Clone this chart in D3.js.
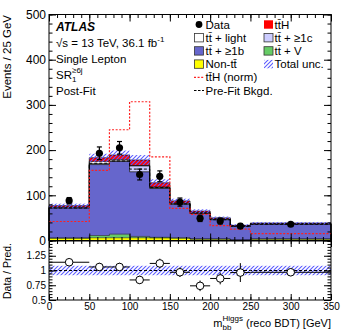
<!DOCTYPE html>
<html><head><meta charset="utf-8">
<script src="https://cdn.jsdelivr.net/npm/d3@7"></script>
<style>body{margin:0;background:#fff} svg{display:block} text{font-family:"Liberation Sans",Arial,Helvetica,sans-serif;fill:#000}</style>
</head><body><svg id="c" width="349" height="335"></svg>
<script>
// ---- data (Events / 25 GeV) ----
const binEdges=[0,50,75,100,125,150,175,200,225,250,350];
const nonTT   =[5,6,6,6,5.5,5,3,3,1,3];
const ttV     =[0.5,5,8,3,1.5,1,0.5,0.5,0.3,0.5];
const tt1b    =[66.5,157,161,143,108,74,56.5,42.5,29.7,32.5];
const tt1c    =[0.5,2,1,13,2,1.5,1,1,0.5,0.5];
const ttLight =[1.5,5,3,1,1.5,1.5,1,1,0.5,0.5];
const ttH     =[3,8,10,12,9,4.5,3,2,1.5,1.5];
const totalUnc=[4.5,9,10,11,8,5,4,3,2.5,2.5];
const dataVals=[88,193,205,146,142,85,49,43,32,36];
const dataErr =[7,14,14,12,12,9,7,6.5,5.5,3.5];
const ttHNorm =[42,155,245,307,185,71,58,33,25,15];
const preFitBkg=[72,171,176,158,117,81,60,46,32,36];
const ratioVals=[1.14,1.06,1.06,0.84,1.12,0.97,0.74,0.865,0.965,0.97];
const ratioErr =[0.06,0.07,0.07,0.07,0.08,0.08,0.09,0.1,0.16,0.06];
const ratioUnc =[0.08,0.08,0.08,0.08,0.08,0.08,0.08,0.08,0.08,0.08];
const preFitRatio=[1,1,1,1,1,1,1,1,1,1];
const xTicks=[0,50,100,150,200,250,300,350];
const yTicksMain=[0,100,200,300,400,500];
const yTicksRatio=[0.5,0.75,1,1.25];
const stackNames=["Non-tt\u0304","tt\u0304 + V","tt\u0304 + \u22651b","tt\u0304 + \u22651c","tt\u0304 + light","tt\u0304H"];

const svg=d3.select("#c");
const defs=svg.append("defs");
const pat=defs.append("pattern").attr("id","hatch").attr("patternUnits","userSpaceOnUse").attr("width",4).attr("height",4);
pat.append("path").attr("d","M-1,1 L1,-1 M0,4 L4,0 M3,5 L5,3").attr("stroke","#5c5cff").attr("stroke-width",1.1).attr("fill","none");

const x=d3.scaleLinear().domain([0,350]).range([49,331]);
const y=d3.scaleLinear().domain([0,500]).range([240.5,14.5]);
const yr=d3.scaleLinear().domain([0.5,1.5]).range([300,241]);

const nb=binEdges.length-1;
const bins=d3.range(nb);
const centers=bins.map(i=>(binEdges[i]+binEdges[i+1])/2);

// stacked layers
const layers=[nonTT,ttV,tt1b,tt1c,ttLight,ttH];
const colors=["#ffff00","#66cc66","#6666cc","#ccccff","#ffffff","#ff0000"];
const stackData=bins.map(i=>{const o={};layers.forEach((l,k)=>o[k]=l[i]);return o;});
const stacked=d3.stack().keys(d3.range(layers.length))(stackData);

function stepPts(lo,hi){
  const pts=[];
  bins.forEach(i=>{pts.push({x:binEdges[i],y0:lo[i],y1:hi[i]});pts.push({x:binEdges[i+1],y0:lo[i],y1:hi[i]});});
  return pts;
}
const area=d3.area().x(d=>x(d.x)).y0(d=>y(d.y0)).y1(d=>y(d.y1));
const line=d3.line().x(d=>x(d.x)).y(d=>y(d.y1));
const gMain=svg.append("g");
stacked.forEach((s,k)=>{
  const lo=s.map(d=>d[0]),hi=s.map(d=>d[1]);
  gMain.append("path").attr("d",area(stepPts(lo,hi))).attr("fill",colors[k]);
});
stacked.forEach((s,k)=>{
  const lo=s.map(d=>d[0]),hi=s.map(d=>d[1]);
  const pts=stepPts(lo,hi);
  const ptsV=[{x:binEdges[0],y1:0}].concat(pts).concat([{x:binEdges[nb],y1:0}]);
  gMain.append("path").attr("d",line(ptsV)).attr("fill","none").attr("stroke","#000").attr("stroke-width",k<2?0.5:0.7);
});
// total uncertainty band
const total=bins.map(i=>layers.reduce((a,l)=>a+l[i],0));
gMain.selectAll("rect.unc").data(bins).join("rect").attr("class","unc")
  .attr("x",i=>x(binEdges[i])).attr("width",i=>x(binEdges[i+1])-x(binEdges[i]))
  .attr("y",i=>y(total[i]+totalUnc[i])).attr("height",i=>y(total[i]-totalUnc[i])-y(total[i]+totalUnc[i]))
  .attr("fill","url(#hatch)");
// pre-fit bkg
const zero=bins.map(()=>0);
gMain.append("path").attr("d",line(stepPts(zero,preFitBkg))).attr("fill","none").attr("stroke","#000").attr("stroke-width",1).attr("stroke-dasharray","3,2");
// ttH norm
gMain.append("path").attr("d",line(stepPts(zero,ttHNorm))).attr("fill","none").attr("stroke","#ff2020").attr("stroke-width",1.2).attr("stroke-dasharray","2,1.6");
// data
const gD=svg.append("g");
bins.forEach(i=>{
  const cx=x(centers[i]);
  gD.append("line").attr("x1",cx).attr("x2",cx).attr("y1",y(dataVals[i]-dataErr[i])).attr("y2",y(dataVals[i]+dataErr[i])).attr("stroke","#000").attr("stroke-width",1.2);
  [dataVals[i]-dataErr[i],dataVals[i]+dataErr[i]].forEach(v=>gD.append("line").attr("x1",cx-2.5).attr("x2",cx+2.5).attr("y1",y(v)).attr("y2",y(v)).attr("stroke","#000").attr("stroke-width",1.2));
  gD.append("circle").attr("cx",cx).attr("cy",y(dataVals[i])).attr("r",3.6).attr("fill","#000");
});

// axes helper
function axesFor(ys,yTicks,minorY,majLenX,minLenX,majLenY,minLenY,showX,labelSize){
  const [top,bot]=[ys.range()[1],ys.range()[0]];
  const g=svg.append("g");
  const minorX=d3.range(0,351,10);
  const tk=(sel)=>sel.call(s=>s.select(".domain").remove()).call(s=>s.selectAll("line").attr("stroke","#000"));
  g.append("g").attr("transform",`translate(0,${bot})`).call(d3.axisBottom(x).tickValues(minorX).tickSize(-minLenX).tickFormat("")).call(tk);
  const bx=g.append("g").attr("transform",`translate(0,${bot})`).call(d3.axisBottom(x).tickValues(xTicks).tickSize(-majLenX).tickPadding(3).tickFormat(showX?d3.format("d"):"")).call(tk);
  bx.selectAll("text").attr("font-size",labelSize).attr("font-family",'"Liberation Sans",Arial,sans-serif');
  g.append("g").attr("transform",`translate(0,${top})`).call(d3.axisTop(x).tickValues(minorX).tickSize(-minLenX).tickFormat("")).call(tk);
  g.append("g").attr("transform",`translate(0,${top})`).call(d3.axisTop(x).tickValues(xTicks).tickSize(-majLenX).tickFormat("")).call(tk);
  g.append("g").attr("transform",`translate(${x(0)},0)`).call(d3.axisLeft(ys).tickValues(minorY).tickSize(-minLenY).tickFormat("")).call(tk);
  const ly=g.append("g").attr("transform",`translate(${x(0)},0)`).call(d3.axisLeft(ys).tickValues(yTicks).tickSize(-majLenY).tickPadding(3)).call(tk);
  ly.selectAll("text").attr("font-size",labelSize).attr("font-family",'"Liberation Sans",Arial,sans-serif');
  g.append("g").attr("transform",`translate(${x(350)},0)`).call(d3.axisRight(ys).tickValues(minorY).tickSize(-minLenY).tickFormat("")).call(tk);
  g.append("g").attr("transform",`translate(${x(350)},0)`).call(d3.axisRight(ys).tickValues(yTicks).tickSize(-majLenY).tickFormat("")).call(tk);
  g.append("rect").attr("x",x(0)).attr("y",top).attr("width",x(350)-x(0)).attr("height",bot-top).attr("fill","none").attr("stroke","#000").attr("stroke-width",1);
  return {g,ly};
}
const mainAx=axesFor(y,yTicksMain,d3.range(0,501,20),7,3.5,7,3.5,false,"12px");
mainAx.ly.selectAll("text").text(d=>d3.format("d")(d));

// ratio panel
const gR=svg.append("g");
gR.selectAll("rect.runc").data(bins).join("rect").attr("class","runc")
  .attr("x",i=>x(binEdges[i])).attr("width",i=>x(binEdges[i+1])-x(binEdges[i]))
  .attr("y",i=>yr(1+ratioUnc[i])).attr("height",i=>yr(1-ratioUnc[i])-yr(1+ratioUnc[i]))
  .attr("fill","url(#hatch)");
const rline=d3.line().x(d=>x(d.x)).y(d=>yr(d.y1));
gR.append("path").attr("d",rline(stepPts(zero,preFitRatio))).attr("fill","none").attr("stroke","#000").attr("stroke-width",1).attr("stroke-dasharray","3,2");
bins.forEach(i=>{
  const cx=x(centers[i]),cy=yr(ratioVals[i]);
  gR.append("line").attr("x1",x(binEdges[i])).attr("x2",x(binEdges[i+1])).attr("y1",cy).attr("y2",cy).attr("stroke","#000").attr("stroke-width",1);
  gR.append("line").attr("x1",cx).attr("x2",cx).attr("y1",yr(ratioVals[i]-ratioErr[i])).attr("y2",yr(ratioVals[i]+ratioErr[i])).attr("stroke","#000").attr("stroke-width",1);
  gR.append("circle").attr("cx",cx).attr("cy",cy).attr("r",3.8).attr("fill","#fff").attr("stroke","#000").attr("stroke-width",1);
});
const rAx=axesFor(yr,yTicksRatio,d3.range(0.5,1.501,0.05),6,3,7,3.5,true,"10px");
rAx.ly.selectAll("text").text(d=>d===1?"1":(d===0.5?"0.5":d3.format(".2f")(d)));

// titles
svg.append("text").attr("transform","translate(11,15) rotate(-90)").attr("text-anchor","end").attr("font-size","11.5px").text("Events / 25 GeV");
svg.append("text").attr("transform","translate(11,271) rotate(-90)").attr("text-anchor","middle").attr("font-size","10.5px").text("Data / Pred.");
const xt=svg.append("text").attr("x",331).attr("y",327).attr("text-anchor","end").attr("font-size","11px");
xt.append("tspan").text("m");
xt.append("tspan").attr("font-size","8px").attr("dy",3).text("bb");
xt.append("tspan").attr("font-size","8px").attr("dx",-8.9).attr("dy",-9).text("Higgs");
xt.append("tspan").attr("dy",6).text(" (reco BDT) [GeV]");

// ATLAS label block
svg.append("text").attr("x",56).attr("y",31).attr("font-size","12px").attr("font-weight","bold").attr("font-style","italic").text("ATLAS");
const t2=svg.append("text").attr("x",56).attr("y",47).attr("font-size","11.5px");
t2.append("tspan").text("\u221As = 13 TeV, 36.1 fb");
t2.append("tspan").attr("font-size","8px").attr("dy",-5).text("-1");
svg.append("text").attr("x",56).attr("y",63).attr("font-size","11.5px").text("Single Lepton");
const t4=svg.append("text").attr("x",56).attr("y",79).attr("font-size","11.5px");
t4.append("tspan").text("SR");
t4.append("tspan").attr("font-size","8px").attr("dy",3).text("1");
t4.append("tspan").attr("font-size","8px").attr("dx",-4.4).attr("dy",-9).text("\u22656j");
svg.append("text").attr("x",56).attr("y",95).attr("font-size","11.5px").text("Post-Fit");

// legend
const rows=[24.5,37.7,50.9,64.1,77.3,90.5];
const lg=svg.append("g").attr("font-size","11.5px");
function box(cx,cy,fill){lg.append("rect").attr("x",cx-4.5).attr("y",cy-4.2).attr("width",9).attr("height",8.4).attr("fill",fill).attr("stroke","#333").attr("stroke-width",0.8);}
function lab(tx,cy,s){lg.append("text").attr("x",tx).attr("y",cy+4).text(s);}
const c1=199,c2=268.5,t1x=205.5,t2x=274.5;
lg.append("circle").attr("cx",c1).attr("cy",rows[0]).attr("r",3.4).attr("fill","#000");
lab(t1x,rows[0],"Data");
lg.append("rect").attr("x",c2-4.5).attr("y",rows[0]-4.2).attr("width",9).attr("height",8.4).attr("fill","#ff0000");
lab(t2x,rows[0],stackNames[5]);
box(c1,rows[1],colors[4]); lab(t1x,rows[1],stackNames[4]);
box(c2,rows[1],colors[3]); lab(t2x,rows[1],stackNames[3]);
box(c1,rows[2],colors[2]); lab(t1x,rows[2],stackNames[2]);
box(c2,rows[2],colors[1]); lab(t2x,rows[2],stackNames[1]);
box(c1,rows[3],colors[0]); lab(t1x,rows[3],stackNames[0]);
lg.append("rect").attr("x",c2-4.5).attr("y",rows[3]-4.2).attr("width",9).attr("height",8.4).attr("fill","url(#hatch)");
lab(t2x,rows[3],"Total unc.");
lg.append("line").attr("x1",c1-5).attr("x2",c1+5).attr("y1",rows[4]).attr("y2",rows[4]).attr("stroke","#ff2020").attr("stroke-width",1.2).attr("stroke-dasharray","2,1.6");
lab(t1x,rows[4],"tt\u0304H (norm)");
lg.append("line").attr("x1",c1-5).attr("x2",c1+5).attr("y1",rows[5]).attr("y2",rows[5]).attr("stroke","#000").attr("stroke-width",1).attr("stroke-dasharray","2.5,1.5");
lab(t1x,rows[5],"Pre-Fit Bkgd.");
</script></body></html>
